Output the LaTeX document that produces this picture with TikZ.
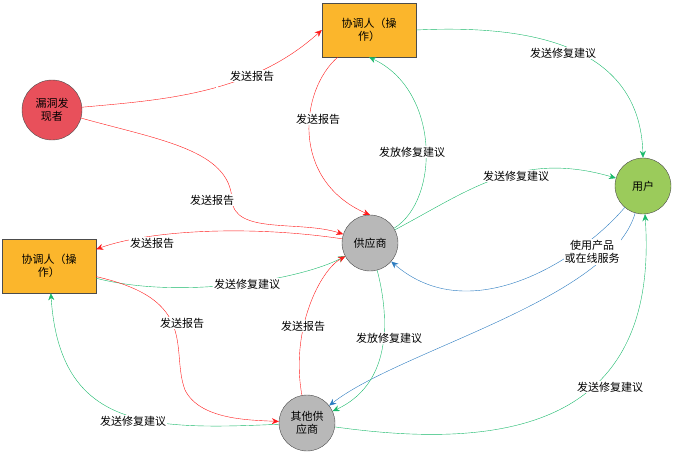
\documentclass[tikz,border=0pt]{standalone}
\usepackage{fontspec}
\setmainfont{Noto Sans CJK SC}
\usetikzlibrary{arrows.meta}
\definecolor{cred}{HTML}{FF1A1A}
\definecolor{cgreen}{HTML}{19B96A}
\definecolor{cblue}{HTML}{2A7BC0}
\begin{document}
\begin{tikzpicture}[x=1pt,y=-1pt,font=\fontsize{11}{13}\selectfont,
 box/.style={draw=black!70,fill={rgb,255:red,251;green,182;blue,44},minimum width=94pt,minimum height=54pt,align=center,text width=84pt,inner sep=2pt},
 circ/.style={circle,draw=black!70,minimum size=56pt,align=center,inner sep=0pt},
 r/.style={draw=cred,-{Stealth[length=7pt,width=6pt]}},
 g/.style={draw=cgreen,-{Stealth[length=7pt,width=6pt]}},
 b/.style={draw=cblue,-{Stealth[length=7pt,width=6pt]}},
 lab/.style={fill=white,inner sep=1pt}]
\useasboundingbox (0,0) rectangle (678,453);
\node[circ,fill={rgb,255:red,232;green,80;blue,91},minimum size=60pt] (f) at (52,110) {漏洞发\\现者};
\node[box] (t) at (369,30) {协调人（操\\作）};
\node[circ,fill={rgb,255:red,155;green,203;blue,91}] (u) at (643,186) {用户};
\node[circ,fill=black!28] (s) at (370,243) {供应商};
\node[box] (l) at (49,266) {协调人（操\\作）};
\node[circ,fill=black!28] (o) at (307,423) {其他供\\应商};
\draw[r] (f) .. controls (160,100) and (250,95) .. (t.west) node[lab,pos=0.55] at (252,76) {};
\node[lab] at (252,76) {发送报告};
\draw[r] (f) .. controls (160,140) and (230,150) .. (232,200) .. controls (234,235) and (300,220) .. (s);
\node[lab] at (212,200) {发送报告};
\draw[r] (t) .. controls (300,90) and (290,180) .. (370,215);
\node[lab] at (318,119) {发送报告};
\draw[g] (s) .. controls (440,200) and (440,90) .. (t.south);
\node[lab] at (412,152) {发放修复建议};
\draw[g] (t.east) .. controls (520,25) and (640,40) .. (u.north);
\node[lab] at (563,53) {发送修复建议};
\draw[g] (s) .. controls (470,190) and (520,150) .. (u);
\node[lab] at (516,176) {发送修复建议};
\draw[b] (u) .. controls (580,260) and (470,330) .. (s);
\draw[b] (u) .. controls (610,300) and (400,350) .. (o);
\node[lab,align=center] at (592,252) {使用产品\\或在线服务};
\draw[r] (s) .. controls (250,225) and (150,230) .. (l);
\node[lab] at (152,243) {发送报告};
\draw[g] (l) .. controls (180,300) and (300,280) .. (s);
\node[lab] at (247,284) {发送修复建议};
\draw[r] (l) .. controls (200,300) and (170,350) .. (185,390) .. controls (200,420) and (250,420) .. (o);
\node[lab] at (182,323) {发送报告};
\draw[g] (o) .. controls (150,430) and (60,430) .. (l);
\node[lab] at (133,421) {发送修复建议};
\draw[r] (o) .. controls (290,330) and (320,270) .. (s);
\node[lab] at (303,326) {发送报告};
\draw[g] (s) .. controls (385,300) and (400,380) .. (o);
\node[lab] at (389,338) {发放修复建议};
\draw[g] (o) .. controls (500,450) and (660,430) .. (u);
\node[lab] at (610,387) {发送修复建议};
\end{tikzpicture}
\end{document}
